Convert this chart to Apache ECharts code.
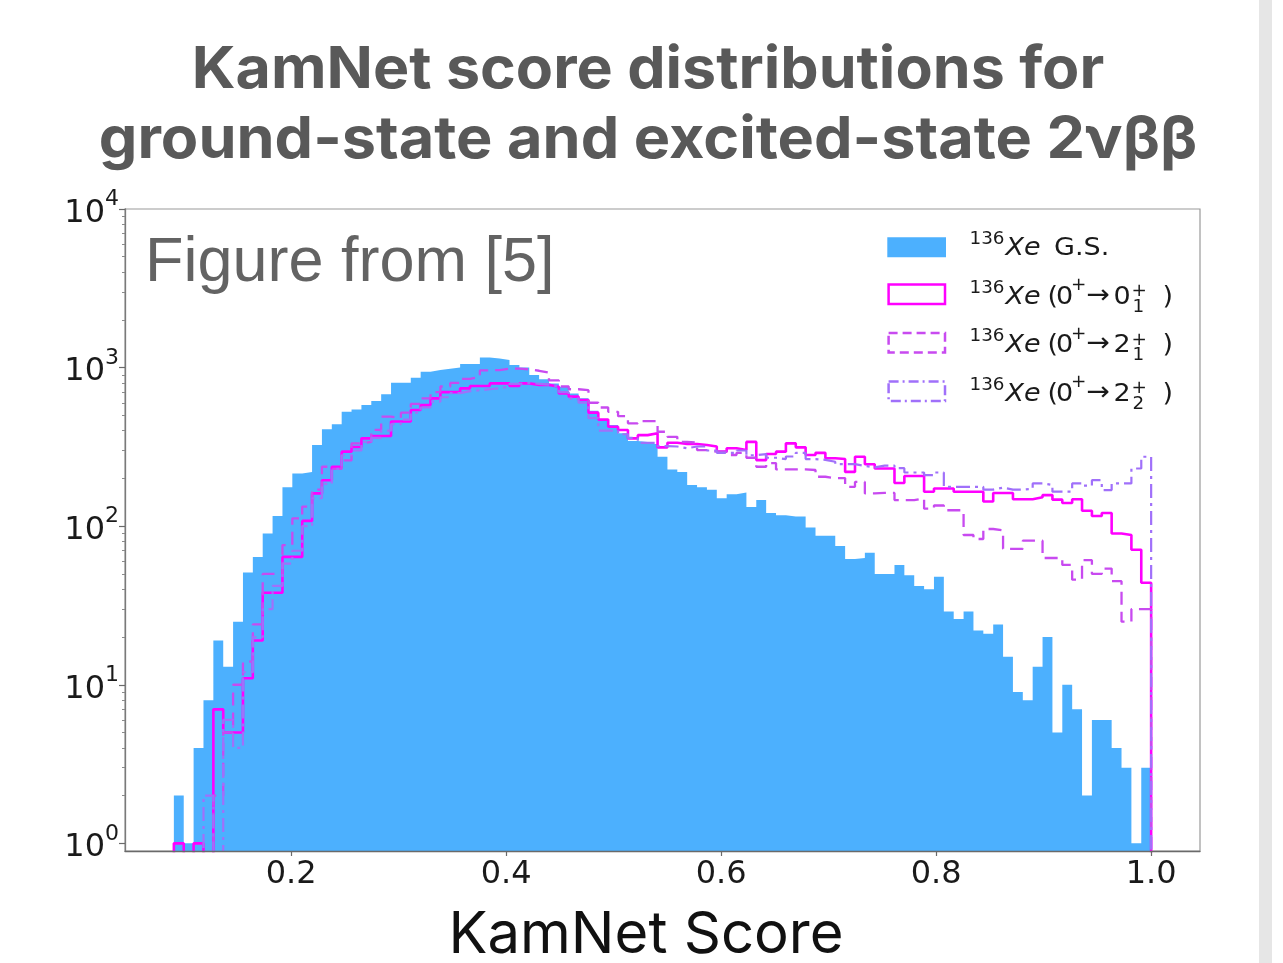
<!DOCTYPE html>
<html>
<head>
<meta charset="utf-8">
<script src="https://cdn.jsdelivr.net/npm/echarts@6/dist/echarts.min.js"></script>
<style>
  html, body { margin: 0; padding: 0; background: #fff; }
  #chart { width: 1283px; height: 963px; }
</style>
</head>
<body>
<div id="chart"></div>
<script>
// Common binning of the KamNet score histograms
const BIN_LO = 0.0909;
const BIN_HI = 1.0;
const N_BINS = 99;

const xTicks = [0.2, 0.4, 0.6, 0.8, 1.0];
const yTicks = [1, 10, 100, 1000, 10000];
const yMinorTicks = [2, 3, 4, 5, 6, 7, 8, 9,
  20, 30, 40, 50, 60, 70, 80, 90,
  200, 300, 400, 500, 600, 700, 800, 900,
  2000, 3000, 4000, 5000, 6000, 7000, 8000, 9000];

// Counts per bin
const countsGS = [2, 1, 4, 8, 19, 13, 25, 51, 64, 90,
  116, 176, 215, 220, 325, 408, 440, 526, 545, 580,
  615, 678, 802, 802, 863, 941, 965, 985, 1003, 1052,
  1052, 1159, 1143, 1115, 1037, 1003, 897, 843, 795, 757,
  687, 640, 535, 465, 434, 385, 344, 340, 330, 274,
  228, 220, 182, 176, 170, 150, 159, 163, 132, 146,
  121, 117, 115, 115, 98, 87, 87, 75, 62, 63,
  68, 50, 50, 57, 49, 42, 40, 48, 29, 26,
  29, 22, 21, 24, 15, 9, 8, 13, 20, 5,
  10, 7, 2, 6, 6, 4, 3, 1, 3];

const counts01 = [1, 0, 1, 0, 7, 5, 5, 11, 19, 38,
  38, 64, 64, 108, 161, 195, 237, 295, 316, 358,
  370, 370, 457, 457, 540, 580, 640, 700, 700, 740,
  765, 765, 795, 795, 765, 795, 778, 778, 757, 687,
  656, 625, 520, 470, 424, 404, 358, 375, 385, 314,
  336, 330, 330, 325, 318, 295, 310, 302, 340, 261,
  285, 295, 333, 314, 281, 290, 268, 265, 220, 274,
  246, 231, 231, 187, 207, 207, 165, 173, 173, 165,
  165, 165, 143, 162, 162, 148, 148, 152, 157, 147,
  140, 148, 125, 116, 121, 90, 88, 71, 44];

const counts21 = [0, 0, 0, 0, 2, 5, 10, 14, 24, 50,
  50, 76, 112, 133, 170, 237, 230, 260, 333, 340,
  405, 490, 480, 520, 590, 640, 700, 760, 800, 850,
  870, 960, 965, 985, 985, 975, 955, 930, 830, 760,
  730, 720, 600, 560, 526, 494, 445, 460, 460, 394,
  366, 340, 336, 302, 295, 295, 281, 290, 270, 237,
  250, 228, 228, 228, 226, 205, 201, 201, 177, 190,
  161, 162, 162, 146, 146, 150, 129, 135, 126, 126,
  88, 83, 96, 94, 72, 72, 81, 81, 63, 63,
  57, 46, 61, 50, 54, 45, 25, 30, 30];

const counts22 = [0, 0, 0, 2, 0, 6, 4, 12, 20, 30,
  42, 58, 70, 100, 150, 185, 230, 280, 300, 340,
  360, 400, 440, 470, 520, 560, 610, 650, 690, 710,
  720, 730, 740, 760, 790, 800, 790, 780, 760, 700,
  640, 600, 480, 400, 400, 380, 360, 335, 335, 320,
  318, 310, 318, 318, 300, 290, 290, 300, 280, 285,
  270, 265, 275, 290, 265, 262, 255, 246, 246, 240,
  235, 241, 241, 232, 218, 218, 210, 218, 177, 177,
  177, 177, 170, 175, 170, 170, 172, 186, 182, 165,
  165, 186, 180, 195, 169, 186, 186, 231, 274];

const seriesNames = ['136Xe G.S.', '136Xe(0+ -> 0+1)', '136Xe(0+ -> 2+1)', '136Xe(0+ -> 2+2)'];

// ---- drawing ----
const BLUE = '#4cb0fe';
const C01 = '#ff00ff';
const C21 = '#c84af0';
const C22 = '#a070fa';

const Y_MIN = 0.895;
const Y_MAX = 10000;
const FLOOR = 0.3; // empty bins fall below the axis and get clipped
const span = BIN_HI - BIN_LO;
const X_MIN = BIN_LO - 0.05 * span;
const X_MAX = BIN_HI + 0.05 * span;
const edges = Array.from({ length: N_BINS + 1 }, (_, i) => BIN_LO + i * span / N_BINS);

// Outline of a histogram as points for a step line (turn at the right edge of each bin)
function stepPoints(counts) {
  const pts = [[edges[0], FLOOR]];
  counts.forEach((c, i) => pts.push([edges[i], c > 0 ? c : FLOOR]));
  const last = counts[counts.length - 1];
  pts.push([edges[N_BINS], last > 0 ? last : FLOOR]);
  pts.push([edges[N_BINS], FLOOR]);
  return pts;
}

const TICK_FONT = 'DejaVu Sans';
const INK = '#1a1a1a';

function legendItems() {
  const els = [];
  const rows = [
    { kind: 'fill', color: BLUE },
    { kind: 'line', color: C01, dash: null, last: '0', sub: '1' },
    { kind: 'line', color: C21, dash: [9, 5], last: '2', sub: '1' },
    { kind: 'line', color: C22, dash: [10, 4, 2, 4], last: '2', sub: '2' }
  ];
  const t = (x, y, s, size, extra) => ({
    type: 'text', x: x, y: y, z: 20, scaleX: 1.08,
    style: Object.assign({ text: s, fontFamily: TICK_FONT, fontSize: size, fill: INK,
      align: 'left', verticalAlign: 'middle' }, extra || {})
  });
  rows.forEach((r, i) => {
    const b = 257.3 + 48.5 * i;
    const mid = b - 8.8;
    if (r.kind === 'fill') {
      els.push({ type: 'rect', z: 20, shape: { x: 887.3, y: b - 20, width: 58.7, height: 20 },
        style: { fill: r.color } });
    } else {
      els.push({ type: 'rect', z: 20, shape: { x: 888.6, y: b - 21.2, width: 56.4, height: 19.4 },
        style: { fill: '#fff', stroke: r.color, lineWidth: 2.5, lineDash: r.dash } });
    }
    els.push(t(969.5, b - 17.3, '136', 17));
    els.push(t(1005.5, mid, 'Xe', 25, { fontStyle: 'italic' }));
    if (r.kind === 'fill') {
      els.push(t(1054, mid, 'G.S.', 25));
    } else {
      els.push(t(1047.5, mid, '(', 25));
      els.push(t(1056, mid, '0', 25));
      els.push(t(1071, b - 20, '+', 17));
      els.push(t(1086.5, b - 9.8, '\u2192', 26));
      els.push(t(1113.5, mid, r.last, 25));
      els.push(t(1131.5, b - 14.1, '+', 17));
      els.push(t(1132.5, b + 1.4, r.sub, 17));
      els.push(t(1162.5, mid, ')', 25));
    }
  });
  return els;
}

const chart = echarts.init(document.getElementById('chart'), null, { renderer: 'canvas' });

const option = {
  animation: false,
  backgroundColor: '#ffffff',
  grid: {
    left: 125, top: 209, right: 83, bottom: 112,
    show: true, borderColor: '#9a9a9a', borderWidth: 1.2, backgroundColor: 'transparent'
  },
  xAxis: {
    type: 'value', min: X_MIN, max: X_MAX, z: 5,
    axisLine: { show: true, onZero: false, lineStyle: { color: '#6a6a6a', width: 1.3 } },
    axisTick: { show: true, length: 5, customValues: xTicks, lineStyle: { color: '#6a6a6a', width: 1.2 } },
    axisLabel: { customValues: xTicks, margin: 8, fontFamily: TICK_FONT, fontSize: 32, color: INK,
      formatter: v => v.toFixed(1) },
    splitLine: { show: false }
  },
  yAxis: [
    {
      type: 'log', logBase: 10, min: Y_MIN, max: Y_MAX, z: 5,
      axisLine: { show: true, lineStyle: { color: '#7a7a7a', width: 1.3 } },
      axisTick: { show: true, length: 6, customValues: yTicks, lineStyle: { color: '#6a6a6a', width: 1.2 } },
      axisLabel: {
        customValues: yTicks, margin: 6,
        formatter: v => '{m|10}{e|' + Math.round(Math.log10(v)) + '}',
        rich: {
          m: { fontFamily: TICK_FONT, fontSize: 32, color: INK, verticalAlign: 'bottom', padding: [9, 0, 0, 0] },
          e: { fontFamily: TICK_FONT, fontSize: 22, color: INK, verticalAlign: 'top' }
        }
      },
      splitLine: { show: false }
    },
    {
      type: 'log', logBase: 10, min: Y_MIN, max: Y_MAX, position: 'left', z: 5,
      axisLine: { show: false },
      axisTick: { show: true, length: 3, customValues: yMinorTicks, lineStyle: { color: '#8a8a8a', width: 1 } },
      axisLabel: { show: false },
      splitLine: { show: false }
    }
  ],
  series: [
    {
      name: seriesNames[0], type: 'line', step: 'end', symbol: 'none', clip: true, z: 1,
      data: stepPoints(countsGS),
      lineStyle: { width: 0, opacity: 0 },
      areaStyle: { color: BLUE, opacity: 1, origin: 'start' }
    },
    {
      name: seriesNames[1], type: 'line', step: 'end', symbol: 'none', clip: true, z: 2,
      data: stepPoints(counts01),
      lineStyle: { color: C01, width: 2.6 }
    },
    {
      name: seriesNames[2], type: 'line', step: 'end', symbol: 'none', clip: true, z: 3,
      data: stepPoints(counts21),
      lineStyle: { color: C21, width: 2.3, type: [13, 7] }
    },
    {
      name: seriesNames[3], type: 'line', step: 'end', symbol: 'none', clip: true, z: 4,
      data: stepPoints(counts22),
      lineStyle: { color: C22, width: 2.2, type: [14, 5, 3, 5] }
    }
  ],
  graphic: [
    { type: 'rect', z: 0, shape: { x: 1259, y: 0, width: 13, height: 963 }, style: { fill: '#e6e6e6' } },
    { type: 'text', x: 648, y: 71, z: 20, scaleX: 1.05,
      style: { text: 'KamNet score distributions for', fontFamily: 'Inter', fontWeight: 'bold',
        fontSize: 58, fill: '#595959', align: 'center', verticalAlign: 'middle' } },
    { type: 'text', x: 648, y: 141, z: 20, scaleX: 1.055,
      style: { text: 'ground-state and excited-state 2\u03bd\u03b2\u03b2', fontFamily: 'Inter', fontWeight: 'bold',
        fontSize: 58, fill: '#595959', align: 'center', verticalAlign: 'middle' } },
    { type: 'text', x: 145, y: 264, z: 20,
      style: { text: 'Figure from [5]', fontFamily: 'Liberation Sans', fontSize: 63,
        fill: '#636363', align: 'left', verticalAlign: 'middle' } },
    { type: 'text', x: 646, y: 936, z: 20,
      style: { text: 'KamNet Score', fontFamily: 'Inter', fontSize: 58,
        fill: '#111111', align: 'center', verticalAlign: 'middle' } }
  ].concat(legendItems())
};

chart.setOption(option);
</script>
</body>
</html>
